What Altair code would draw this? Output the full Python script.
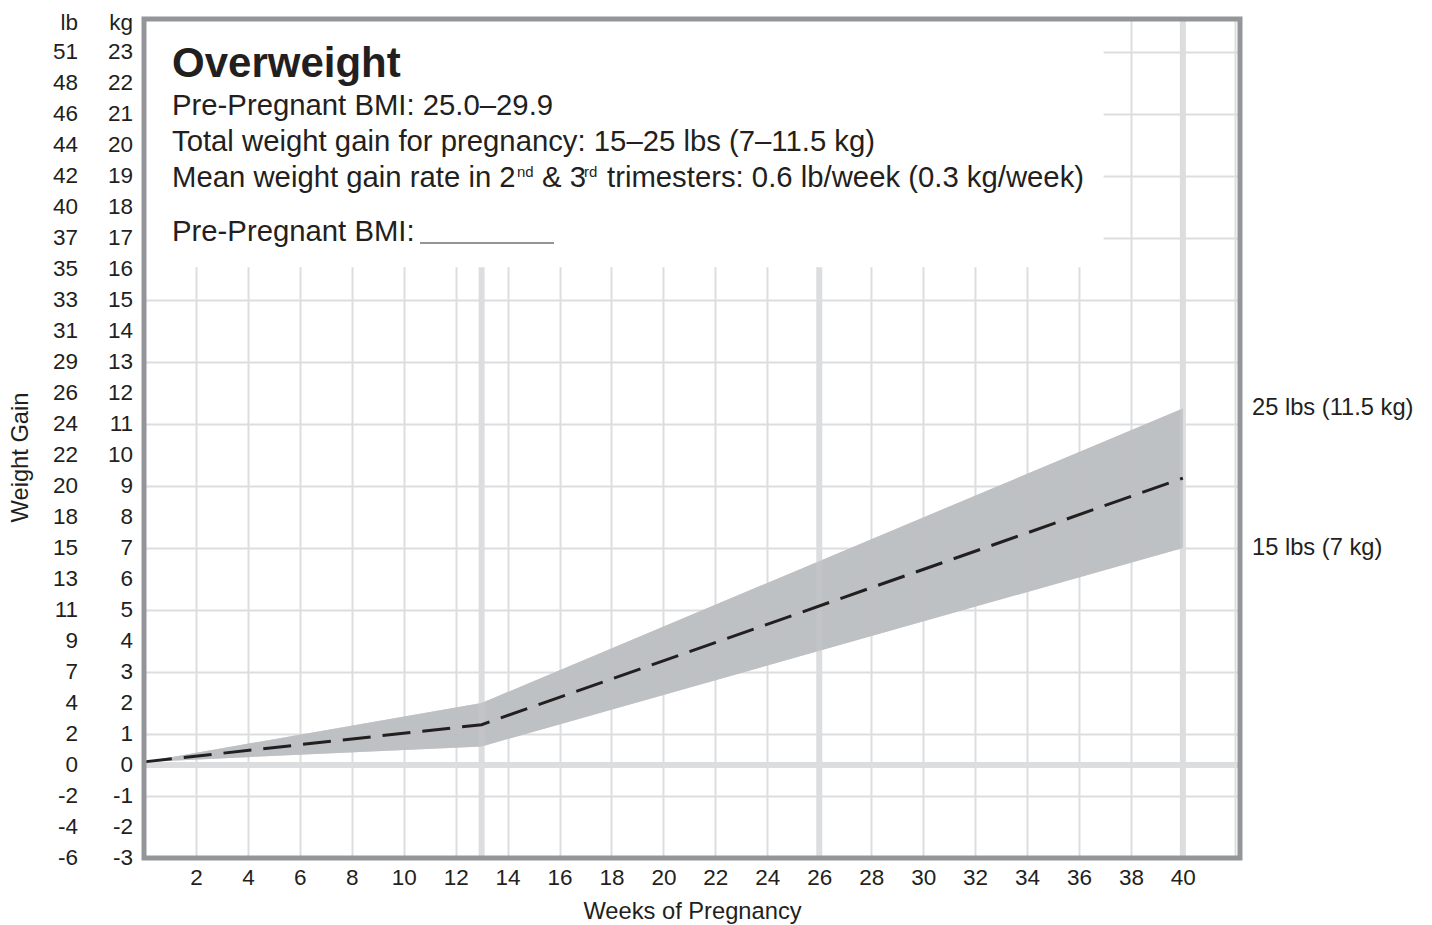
import altair as alt
import pandas as pd

# ---------------- data ----------------
weeks = [0, 13, 40]
gain_low_kg = [0.1, 0.6, 7.0]
gain_high_kg = [0.1, 2.0, 11.5]
gain_mean_kg = [0.1, 1.3, 9.25]

kg_ticks = list(range(-3, 24))
lb_labels = [-6, -4, -2, 0, 2, 4, 7, 9, 11, 13, 15, 18, 20, 22, 24, 26,
             29, 31, 33, 35, 37, 40, 42, 44, 46, 48, 51]
week_grid = list(range(0, 43))
trimester_weeks = [13, 26, 40]
zero_line = [0]
end_labels = ["25 lbs (11.5 kg)", "15 lbs (7 kg)"]

# ---------------- style ----------------
W, H = 1096, 839
FONT = "Liberation Sans"
TXT = "#231f20"
GRID = "#dcdddf"
BORDER = "#939598"
BAND = "#bcbec0"
TICK_FS = 22.5
TITLE_FS = 23.7
BODY_FS = 29.3

band_df = pd.DataFrame({"week": weeks, "low": gain_low_kg, "high": gain_high_kg,
                        "mean": gain_mean_kg})
tick_df = pd.DataFrame({"kg": kg_ticks, "kglab": [str(v) for v in kg_ticks],
                        "lb": [str(v) for v in lb_labels]})
tri_df = pd.DataFrame({"week": trimester_weeks})
zero_df = pd.DataFrame({"kg": zero_line})
end_df = pd.DataFrame({"kg": [gain_high_kg[-1], gain_low_kg[-1]], "label": end_labels})

xscale = alt.Scale(domain=[0, 42.2], nice=False, zero=False)
yscale = alt.Scale(domain=[-3, 24.06], nice=False, zero=False)

xaxis = alt.Axis(
    title="Weeks of Pregnancy", values=week_grid,
    labelExpr="(datum.value % 2 == 0 && datum.value > 0 && datum.value <= 40) ? '' + datum.value : ''",
    ticks=False, tickSize=0, domain=False, grid=True, gridColor=GRID, gridWidth=2,
    labelFont=FONT, labelFontSize=TICK_FS, labelColor=TXT, labelPadding=8,
    labelOverlap=False, labelFlush=False,
    titleFont=FONT, titleFontSize=TITLE_FS, titleColor=TXT, titleFontWeight="normal",
    titleX=548, titleY=53, titleBaseline="middle", titleAlign="center",
)
yaxis = alt.Axis(
    title="Weight Gain", values=kg_ticks + [24], labels=False,
    ticks=False, tickSize=0, domain=False, grid=True, gridColor=GRID, gridWidth=2,
    titleFont=FONT, titleFontSize=TITLE_FS, titleColor=TXT, titleFontWeight="normal",
    titleX=-124, titleY=438, titleAngle=270, titleBaseline="middle", titleAlign="center",
)

band = alt.Chart(band_df).mark_area(color=BAND, opacity=0.8).encode(
    x=alt.X("week:Q", scale=xscale, axis=xaxis),
    y=alt.Y("low:Q", scale=yscale, axis=yaxis),
    y2="high:Q",
)

tri_rules = alt.Chart(tri_df).mark_rule(color=GRID, strokeWidth=6).encode(x="week:Q")
zero_rule = alt.Chart(zero_df).mark_rule(color=GRID, strokeWidth=6).encode(y="kg:Q")

white_box = alt.Chart(alt.Data(values=[{}])).mark_rect(color="white").encode(
    x=alt.datum(-0.2), x2=alt.datum(36.95), y=alt.datum(16.05), y2=alt.value(-3)
)

mean_line = alt.Chart(band_df).mark_line(color=TXT, strokeWidth=3, strokeDash=[28, 12]).encode(
    x="week:Q", y="mean:Q"
)

border = alt.Chart(alt.Data(values=[{}])).mark_rect(
    filled=False, stroke=BORDER, strokeWidth=5
).encode(x=alt.value(0), x2=alt.value(W), y=alt.value(0), y2=alt.value(H))

lb_col = alt.Chart(tick_df).mark_text(
    align="right", baseline="middle", font=FONT, fontSize=TICK_FS, color=TXT
).encode(y="kg:Q", x=alt.value(-66), text="lb:N")

kg_col = alt.Chart(tick_df).mark_text(
    align="right", baseline="middle", font=FONT, fontSize=TICK_FS, color=TXT
).encode(y="kg:Q", x=alt.value(-11), text="kglab:N")

end_text = alt.Chart(end_df).mark_text(
    align="left", baseline="middle", font=FONT, fontSize=TITLE_FS, color=TXT
).encode(y="kg:Q", x=alt.value(1108), text="label:N")


def label(text, x, y, size, weight="normal", align="left", baseline="alphabetic"):
    return alt.Chart(alt.Data(values=[{"t": text}])).mark_text(
        align=align, baseline=baseline, font=FONT, fontSize=size,
        fontWeight=weight, color=TXT
    ).encode(x=alt.value(x), y=alt.value(y), text="t:N")


texts = [
    label("lb", -66, 11, TICK_FS, align="right"),
    label("kg", -11, 11, TICK_FS, align="right"),
    label("Overweight", 28, 58, 42, weight="bold"),
    label("Pre-Pregnant BMI: 25.0\u201329.9", 28, 96, BODY_FS),
    label("Total weight gain for pregnancy: 15\u201325 lbs (7\u201311.5 kg)", 28, 132, BODY_FS),
    label("Mean weight gain rate in 2", 28, 168, BODY_FS),
    label("nd", 373, 158, 15),
    label("& 3", 398, 168, BODY_FS),
    label("rd", 440, 158, 15),
    label("trimesters: 0.6 lb/week (0.3 kg/week)", 463, 168, BODY_FS),
    label("Pre-Pregnant BMI:", 28, 222, BODY_FS),
]

underline = alt.Chart(alt.Data(values=[{}])).mark_rule(color=BORDER, strokeWidth=2).encode(
    x=alt.value(276), x2=alt.value(410), y=alt.value(224)
)

chart = alt.layer(
    band, tri_rules, zero_rule, white_box,
    alt.Chart(band_df).mark_area(color=BAND, opacity=0.8).encode(
        x="week:Q", y="low:Q", y2="high:Q"),
    mean_line, border, lb_col, kg_col, end_text, underline, *texts
).properties(
    width=W, height=H,
    autosize=alt.AutoSizeParams(type="none"),
    padding={"left": 136, "top": 11, "right": 184, "bottom": 66},
).configure_view(stroke=None)

chart.save("out.html", embed_options={"renderer": "svg", "actions": False})
